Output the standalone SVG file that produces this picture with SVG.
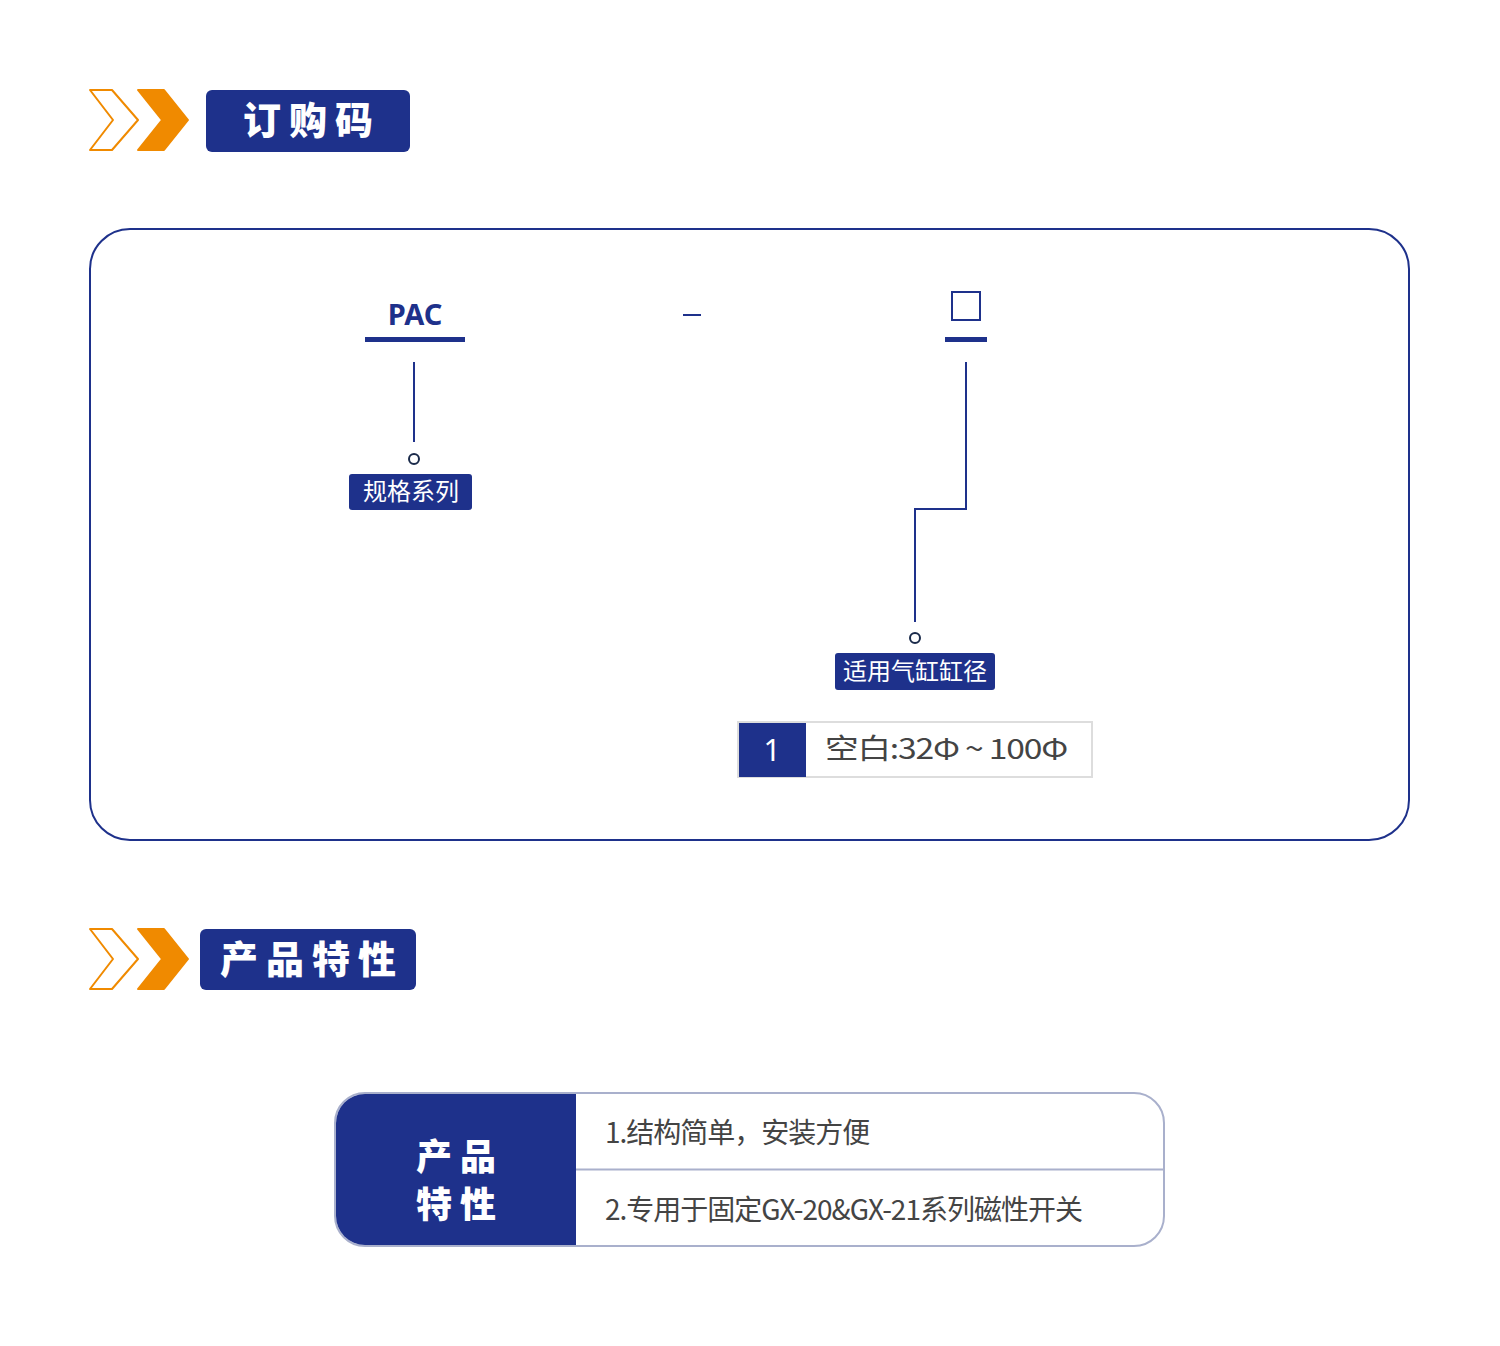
<svg xmlns="http://www.w3.org/2000/svg" width="1500" height="1346" viewBox="0 0 1500 1346">
<style>
.hd{font-family:"Noto Sans CJK SC",sans-serif;font-weight:900;fill:#fff}
.lb{font-family:"Noto Sans CJK SC",sans-serif;fill:#fff;font-size:24px}
.t{font-family:"Noto Sans CJK SC",sans-serif;fill:#444;font-size:28px;letter-spacing:-1px}
.ln{stroke:#1e318b;stroke-width:2;fill:none}
.dot{fill:#fff;stroke:#1a2a4a;stroke-width:2}
.bar{fill:#1e318b}
</style>
<rect width="1500" height="1346" fill="#fff"/>
<defs>
<g id="chev">
<path d="M90 90 H112 L138 120 L112 150 H90 L113 120 Z" fill="#fff" stroke="#f08a00" stroke-width="2" stroke-linejoin="round"/>
<path d="M138 90 H164 L188 120 L164 150 H138 L162 120 Z" fill="#f08a00" stroke="#f08a00" stroke-width="2" stroke-linejoin="round"/>
</g>
</defs>
<g id="title1"><use href="#chev"/><rect x="206" y="90" width="204" height="62" rx="6" class="bar"/><text x="312" y="134" class="hd" font-size="38" text-anchor="middle" letter-spacing="8">订购码</text></g>
<rect x="90" y="229" width="1319" height="611" rx="40" fill="#fff" stroke="#1e318b" stroke-width="2"/>
<g id="pac"><text x="415" y="325" text-anchor="middle" font-family="Noto Sans,sans-serif" font-weight="bold" font-size="29" fill="#1e318b">PAC</text><rect x="365" y="337" width="100" height="5" class="bar"/></g>
<g id="dash"><rect x="683" y="314" width="18" height="2" class="bar"/></g>
<g id="box"><rect x="952" y="292" width="28" height="28" fill="#fff" stroke="#1e318b" stroke-width="2"/><rect x="945" y="337" width="42" height="5" class="bar"/></g>
<g id="connectors">
<path class="ln" d="M414 362 V442"/>
<path class="ln" d="M966 362 V509 H915 V622"/>
<circle cx="414" cy="459" r="5" class="dot"/>
<circle cx="915" cy="638" r="5" class="dot"/>
</g>
<g id="l1"><rect x="349" y="474" width="123" height="36" rx="3" class="bar"/><text x="411" y="500" class="lb" text-anchor="middle">规格系列</text></g>
<g id="l2"><rect x="835" y="653" width="160" height="37" rx="3" class="bar"/><text x="915" y="680" class="lb" text-anchor="middle">适用气缸缸径</text></g>
<g id="opt"><rect x="738" y="722" width="354" height="55" fill="#fff" stroke="#ddd" stroke-width="2"/><rect x="739" y="723" width="67" height="54" class="bar"/><text x="772" y="761" text-anchor="middle" font-family="Noto Sans,sans-serif" font-size="30" fill="#fff">1</text><text x="825" y="759" class="t" font-size="32" letter-spacing="0" textLength="242" lengthAdjust="spacingAndGlyphs">空白:32Φ ~ 100Φ</text></g>
<g id="title2"><use href="#chev" transform="translate(0,839)"/><rect x="200" y="929" width="216" height="61" rx="6" class="bar"/><text x="312" y="973" class="hd" font-size="38" text-anchor="middle" letter-spacing="8">产品特性</text></g>
<g id="feat">
<rect x="335" y="1093" width="829" height="153" rx="30" fill="#fff" stroke="#a9b0cc" stroke-width="2"/>
<path d="M576 1094 V1245 H365 A29 29 0 0 1 336 1216 V1123 A29 29 0 0 1 365 1094 Z" class="bar"/>
<line x1="576" y1="1169.5" x2="1163" y2="1169.5" stroke="#a9b0cc" stroke-width="2"/>
<text x="460" y="1170" class="hd" font-size="36" text-anchor="middle" letter-spacing="8">产品</text>
<text x="460" y="1218" class="hd" font-size="36" text-anchor="middle" letter-spacing="8">特性</text>
<text x="605" y="1143" class="t">1.结构简单，安装方便</text>
<text x="605" y="1220" class="t">2.专用于固定GX-20&amp;GX-21系列磁性开关</text>
</g>
</svg>
